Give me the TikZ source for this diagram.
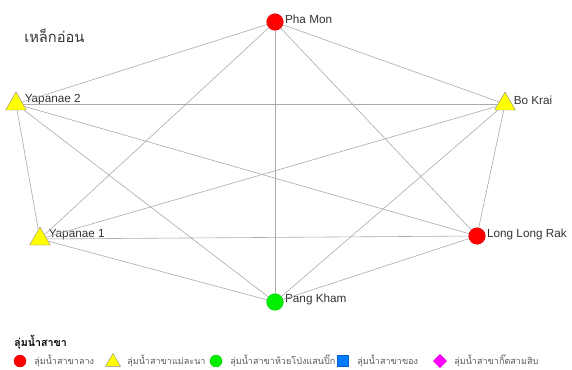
\documentclass[tikz,border=0pt]{standalone}
\usepackage{fontspec}
\setmainfont{Liberation Sans}
\newfontfamily\thaifont[Script=Thai]{Loma}
\usetikzlibrary{shapes.geometric}
\definecolor{linkgray}{RGB}{170,170,170}
\definecolor{sitered}{RGB}{255,0,0}
\definecolor{siteyellow}{RGB}{255,255,0}
\definecolor{sitegreen}{RGB}{0,240,0}
\definecolor{siteblue}{RGB}{0,122,255}
\definecolor{sitemagenta}{RGB}{255,0,255}

\tikzset{
  site/.style={inner sep=0pt, line width=0.3pt},
  circsite/.style={site, circle, draw=sitered!85!black, fill=sitered, minimum size=12.5pt},
  trisite/.style={site, regular polygon, regular polygon sides=3, draw=black!45, fill=siteyellow, minimum size=18pt},
  greensite/.style={circsite, draw=sitegreen!80!black, fill=sitegreen},
  sitelabel/.style={font=\fontsize{8.8}{10}\selectfont, text=black!80, inner sep=1pt},
  link/.style={draw=linkgray, line width=0.45pt},
  legendtext/.style={font=\thaifont\fontsize{6.8}{8}\selectfont, text=black!65, anchor=west, inner sep=0pt}
}

\begin{document}
\begin{tikzpicture}[x=0.75pt, y=-0.75pt]
  \useasboundingbox (0,0) rectangle (572,369);

  % title
  \node[font=\thaifont\fontsize{11}{13}\selectfont, text=black!80, anchor=west, inner sep=0pt] (title) at (24,36) {เหล็กอ่อน};

  % sites
  \node[circsite, label={[sitelabel, yshift=2pt]right:Pha Mon}] (phamon) at (275,22) {};
  \node[trisite, label={[sitelabel, yshift=3pt]right:Bo Krai}] (bokrai) at (505,104) {};
  \node[trisite, label={[sitelabel, yshift=3pt]right:Yapanae 2}] (yapanae2) at (16,104) {};
  \node[trisite, label={[sitelabel, yshift=3pt]right:Yapanae 1}] (yapanae1) at (40,239) {};
  \node[circsite, label={[sitelabel, yshift=1pt]right:Long Long Rak}] (longlongrak) at (477,236) {};
  \node[greensite, label={[sitelabel, yshift=2pt]right:Pang Kham}] (pangkham) at (275,302) {};

  % links between every pair of sites
  \foreach \a/\b in {phamon/bokrai, phamon/yapanae2, phamon/yapanae1, phamon/longlongrak, phamon/pangkham,
                     bokrai/yapanae2, bokrai/yapanae1, bokrai/longlongrak, bokrai/pangkham,
                     yapanae2/yapanae1, yapanae2/longlongrak, yapanae2/pangkham,
                     yapanae1/longlongrak, yapanae1/pangkham,
                     longlongrak/pangkham}
    \draw[link] (\a) -- (\b);

  % legend
  \node[font=\thaifont\bfseries\fontsize{8}{10}\selectfont, anchor=west, inner sep=0pt] (legendhead) at (14,342) {ลุ่มน้ำสาขา};

  \node[circsite, minimum size=9pt] (keylang) at (20,361) {};
  \node[legendtext] (txtlang) at (34,361) {ลุ่มน้ำสาขาลาง};
  \node[trisite, minimum size=13pt] (keymaelana) at (113,362) {};
  \node[legendtext] (txtmaelana) at (127,361) {ลุ่มน้ำสาขาแม่ละนา};
  \node[greensite, minimum size=9pt] (keyhuai) at (216,361) {};
  \node[legendtext] (txthuai) at (230,361) {ลุ่มน้ำสาขาห้วยโป่งแสนปิ๊ก};
  \node[site, rectangle, draw=siteblue!80!black, fill=siteblue, minimum size=8pt] (keykhong) at (343,361) {};
  \node[legendtext] (txtkhong) at (357,361) {ลุ่มน้ำสาขาของ};
  \node[site, diamond, draw=sitemagenta!80!black, fill=sitemagenta, minimum size=10pt] (keykid) at (440,361) {};
  \node[legendtext] (txtkid) at (454,361) {ลุ่มน้ำสาขากิ๊ดสามสิบ};
\end{tikzpicture}
\end{document}
